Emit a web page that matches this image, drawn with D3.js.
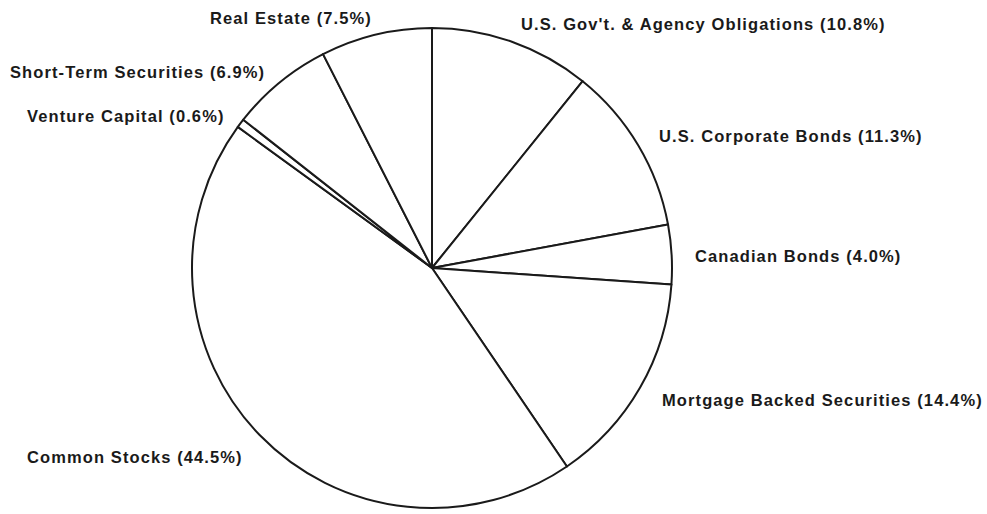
<!DOCTYPE html>
<html>
<head>
<meta charset="utf-8">
<script src="https://cdn.jsdelivr.net/npm/d3@7"></script>
<style>
  html, body { margin: 0; padding: 0; background: #fff; }
  svg text { font-family: "Liberation Sans", Arial, sans-serif; font-weight: bold; fill: #1a1a1a; }
</style>
</head>
<body>
<svg id="chart"></svg>
<script>
// 各个资产类别（顺时针，从正上方开始）
const categories = ['U.S. Gov\'t. & Agency Obligations', 'U.S. Corporate Bonds', 'Canadian Bonds',
    'Mortgage Backed Securities', 'Common Stocks', 'Venture Capital', 'Short-Term Securities', 'Real Estate'];
const shares = [10.8, 11.3, 4.0, 14.4, 44.5, 0.6, 6.9, 7.5];

// 标签摆放位置（左侧 x，基线 y）
const labelLayout = [[521, 30], [659, 141.5], [695, 261.5], [662, 405.5],
    [27, 463], [27, 122], [10, 78], [210, 23.5]];

let width = 987, height = 514;
let svg = d3.select('#chart')
    .attr('width', width)
    .attr('height', height);

let cx = 432, cy = 268, radius = 240;

let pie = d3.pie().sort(null).value(d => d);
let arc = d3.arc().innerRadius(0).outerRadius(radius);

let g = svg.append('g')
    .attr('transform', 'translate(' + cx + ',' + cy + ')');

// 画扇区
g.selectAll('path')
    .data(pie(shares))
    .enter()
    .append('path')
    .attr('d', arc)
    .attr('fill', '#fff')
    .attr('stroke', '#1a1a1a')
    .attr('stroke-width', 2)
    .attr('stroke-linejoin', 'round');

// 标签
svg.selectAll('text.label')
    .data(categories)
    .enter()
    .append('text')
    .attr('class', 'label')
    .attr('x', (d, i) => labelLayout[i][0])
    .attr('y', (d, i) => labelLayout[i][1])
    .attr('font-size', 16.5)
    .attr('letter-spacing', 1.1)
    .text((d, i) => d + ' (' + shares[i].toFixed(1) + '%)');
</script>
</body>
</html>
